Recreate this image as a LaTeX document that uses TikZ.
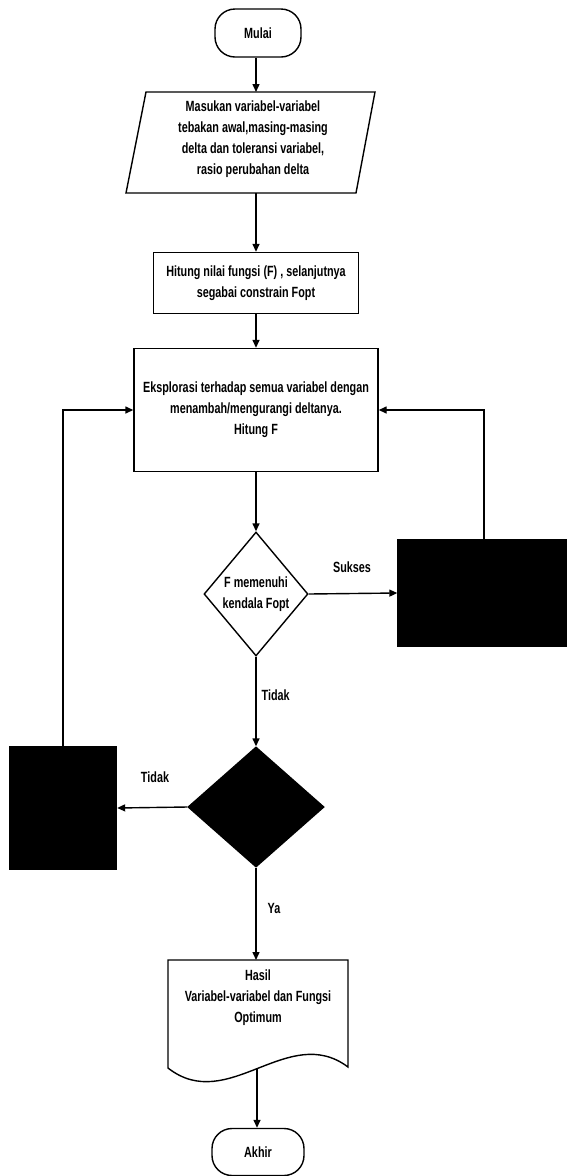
\documentclass[tikz,border=0pt]{standalone}
\usepackage{fontspec}
\setmainfont[FakeStretch=0.73]{Liberation Sans}
\usetikzlibrary{arrows.meta,shapes.geometric}
\begin{document}
\begin{tikzpicture}[x=1pt,y=-1pt,line width=1.4pt,
  every node/.style={font=\fontsize{14.8}{21}\selectfont\bfseries},
  arr/.style={-{Triangle[length=8pt,width=7pt]}},
  term/.style={draw,rounded corners=20pt,fill=white,inner sep=0pt},
  box/.style={draw,fill=white,align=center,inner sep=0pt},
  txt/.style={align=center,inner sep=0pt},
  lbl/.style={inner sep=0pt},
  blk/.style={draw,fill=black,inner sep=0pt},
  dec/.style={diamond,draw,inner sep=0pt}]
\useasboundingbox (0,0) rectangle (567,1176);
% start
\node[term,minimum width=86pt,minimum height=48pt] (mulai) at (258,33) {Mulai};
% input parallelogram
\coordinate (inpTL) at (146,92);
\coordinate (inpTR) at (375,92);
\coordinate (inpBR) at (356,193);
\coordinate (inpBL) at (126,193);
\draw (inpTL) -- (inpTR) -- (inpBR) -- (inpBL) -- cycle;
\node[txt] (inp) at (253,139) {Masukan variabel-variabel\\tebakan awal,masing-masing\\delta dan toleransi variabel,\\rasio perubahan delta};
\coordinate (inpT) at (256,92);
\coordinate (inpB) at (256,193);
\draw[arr] (mulai.south -| inpT) -- (inpT);
% hitung
\node[box,minimum width=205pt,minimum height=61pt] (hit) at (256,283) {Hitung nilai fungsi (F) , selanjutnya\\segabai constrain Fopt};
\draw[arr] (inpB) -- (hit.north);
% eksplorasi
\node[box,minimum width=244pt,minimum height=123pt] (eks) at (256,410) {Eksplorasi terhadap semua variabel dengan\\menambah/mengurangi deltanya.\\Hitung F};
\draw[arr] (hit.south) -- (eks.north);
% decision 1
\node[dec,minimum width=104pt,minimum height=124pt] (d1) at (256,594) {};
\node[txt] (d1t) at (d1.center) {F memenuhi\\kendala Fopt};
\draw[arr] (eks.south) -- (d1.north);
% right black box
\node[blk,minimum width=172pt,minimum height=106pt] (rbox) at (484,593) {};
\draw[arr] (d1.east) -- (rbox.west);
\node[lbl] (lsuk) at (352,567) {Sukses};
\draw[arr] (rbox.north) |- (eks.east);
% decision 2
\node[dec,fill=black,minimum width=136pt,minimum height=120pt] (d2) at (256,807) {};
\draw[arr] (d1.south) -- (d2.north);
\node[lbl,anchor=west] (ltid1) at (261,695) {Tidak};
% left black box
\node[blk,minimum width=107pt,minimum height=123pt] (lbox) at (63,808) {};
\draw[arr] (d2.west) -- (lbox.east);
\node[lbl] (ltid2) at (155,777) {Tidak};
\draw[arr] (lbox.north) |- (eks.west);
% document
\draw[fill=white] (168,960) -- (348,960) -- (348,1067)
  .. controls (288,1022) and (228,1115) .. (168,1068) -- cycle;
\coordinate (docT) at (256,960);
\coordinate (docB) at (257,1068);
\node[txt] (doc) at (258,998) {Hasil\\Variabel-variabel dan Fungsi\\Optimum};
\draw[arr] (d2.south) -- (docT);
\node[lbl,anchor=west] (lya) at (267,908) {Ya};
% end
\node[term,minimum width=92pt,minimum height=47pt] (akhir) at (258,1152) {Akhir};
\draw[arr] (docB) -- (akhir.north -| docB);
\end{tikzpicture}
\end{document}
